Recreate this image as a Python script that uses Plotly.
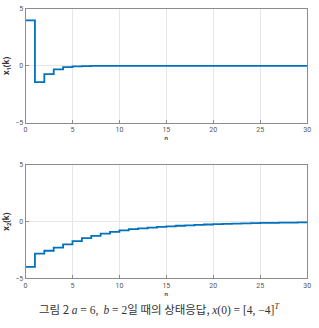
import plotly.graph_objects as go

n = list(range(0, 31))
x1_vals = [4.0, -1.42, -0.72, -0.3, -0.1, -0.03, -0.01] + [0.0] * 24
x2_vals = [-4.0, -2.83, -2.58, -2.3, -2.02, -1.72, -1.47, -1.26, -1.07, -0.91,
           -0.77, -0.67, -0.6, -0.53, -0.47, -0.42, -0.37, -0.33, -0.29, -0.26,
           -0.23, -0.2, -0.18, -0.16, -0.14, -0.12, -0.11, -0.1, -0.09, -0.08, -0.07]
x_ticks = [0, 5, 10, 15, 20, 25, 30]
y_ticks = [-5, 0, 5]

W, H = 319, 328
line_color = "#0072BD"

fig = go.Figure()
fig.add_trace(go.Scatter(x=n, y=x1_vals, mode="lines", line=dict(color=line_color, width=1.8, shape="hv"),
                         xaxis="x", yaxis="y", showlegend=False))
fig.add_trace(go.Scatter(x=n, y=x2_vals, mode="lines", line=dict(color=line_color, width=1.8, shape="hv"),
                         xaxis="x2", yaxis="y2", showlegend=False))

def px_x(p):
    return p / W

def px_y(p):
    return 1 - p / H

axis_common = dict(showline=True, linecolor="#8c8c8c", linewidth=1, mirror=True,
                   showgrid=True, gridcolor="#e6e6e6", gridwidth=1, zeroline=False,
                   ticks="inside", ticklen=3, tickcolor="#8c8c8c",
                   tickfont=dict(family="Roboto, sans-serif", size=7, color="#555555"))

serif = "font-family:'Liberation Serif', 'DejaVu Serif', serif"
caption = (
    "그림 2 "
    f"<span style=\"{serif}\"><i>a</i> = 6,</span>  "
    f"<span style=\"{serif}\"><i>b</i> = 2</span>일 때의 상태응답, "
    f"<span style=\"{serif}\"><i>x</i>(0) = [4, −4]<sup><i>T</i></sup></span>"
)

fig.update_layout(
    width=W, height=H, margin=dict(l=0, r=0, t=0, b=0),
    paper_bgcolor="white", plot_bgcolor="white",
    xaxis=dict(domain=[px_x(24), px_x(311)], range=[0, 30], tickvals=x_ticks, anchor="y",
               title=dict(text="<b>n</b>", font=dict(size=6, color="#555555"), standoff=2), **axis_common),
    yaxis=dict(domain=[px_y(122), px_y(5)], range=[-5, 5], tickvals=y_ticks, anchor="x",
               title=dict(text="<b>x<sub>1</sub>(k)</b>", font=dict(size=8, color="#333333"), standoff=4),
               **axis_common),
    xaxis2=dict(domain=[px_x(24), px_x(311)], range=[0, 30], tickvals=x_ticks, anchor="y2",
                title=dict(text="<b>n</b>", font=dict(size=6, color="#555555"), standoff=2), **axis_common),
    yaxis2=dict(domain=[px_y(281), px_y(165)], range=[-5, 5], tickvals=y_ticks, anchor="x2",
                title=dict(text="<b>x<sub>2</sub>(k)</b>", font=dict(size=8, color="#333333"), standoff=4),
                **axis_common),
    annotations=[dict(
        text=caption,
        x=0.5, y=px_y(313), xref="paper", yref="paper", xanchor="center", yanchor="middle",
        showarrow=False, font=dict(family="Noto Sans CJK KR, sans-serif", size=11.5, color="#333333"))]
)

fig.write_html("out.html")
